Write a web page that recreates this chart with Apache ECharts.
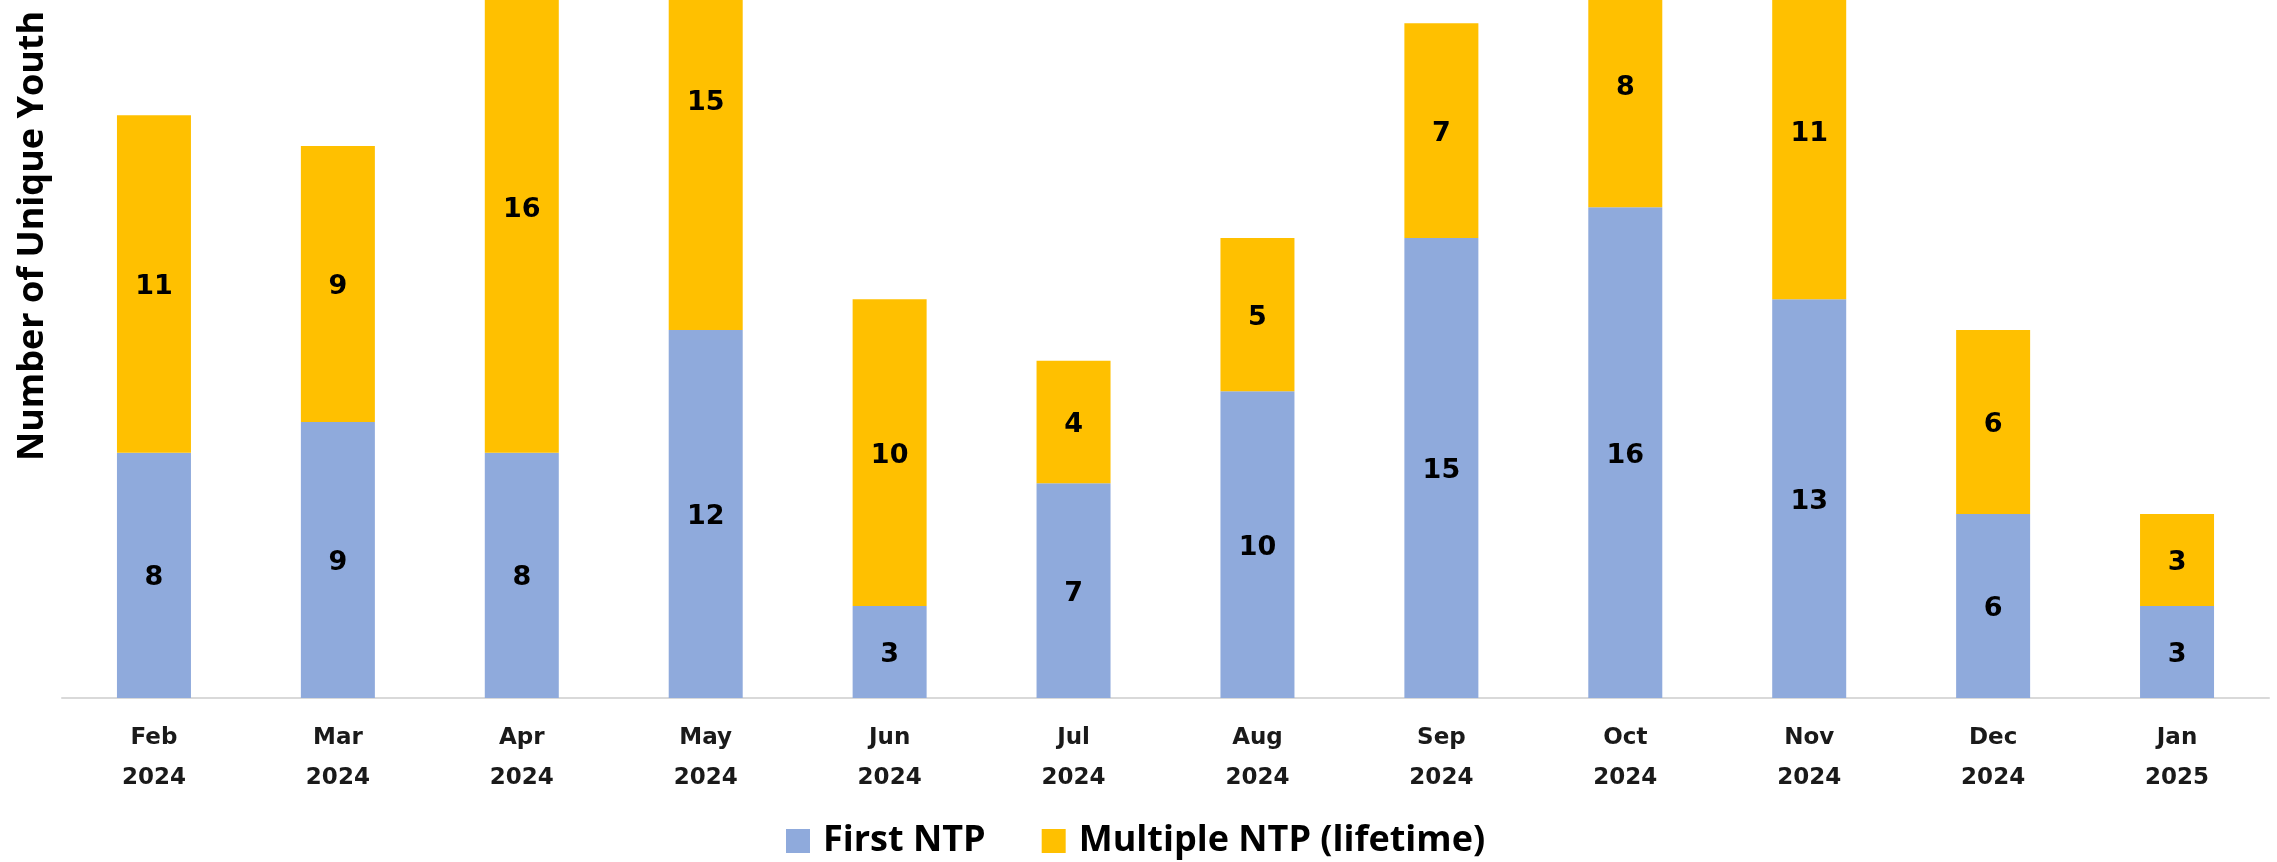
<!DOCTYPE html>
<html>
<head>
<meta charset="utf-8">
<script src="https://cdn.jsdelivr.net/npm/echarts@6/dist/echarts.min.js"></script>
<style>
  html, body { margin: 0; padding: 0; width: 2277px; height: 862px; overflow: hidden; background: #fff; }
  #chart { position: absolute; left: 0; top: -222px; width: 2277px; height: 1084px; }
</style>
</head>
<body>
<div id="chart"></div>
<script>
const categories = ['Feb\n2024', 'Mar\n2024', 'Apr\n2024', 'May\n2024', 'Jun\n2024', 'Jul\n2024',
                    'Aug\n2024', 'Sep\n2024', 'Oct\n2024', 'Nov\n2024', 'Dec\n2024', 'Jan\n2025'];
const firstNTP = [8, 9, 8, 12, 3, 7, 10, 15, 16, 13, 6, 3];
const multipleNTP = [11, 9, 16, 15, 10, 4, 5, 7, 8, 11, 6, 3];
const seriesNames = ['First NTP', 'Multiple NTP (lifetime)'];
const yTitle = 'Number of Unique Youth';

const chart = echarts.init(document.getElementById('chart'), null, { renderer: 'canvas' });
const labelStyle = {
  show: true, position: 'inside', color: '#000', fontFamily: 'DejaVu Sans',
  fontWeight: 'bold', fontSize: 27, offset: [0, 3]
};
chart.setOption({
  animation: false,
  backgroundColor: '#fff',
  grid: { left: 62, right: 8, top: 0, bottom: 164, containLabel: false },
  legend: {
    left: 781, top: 1040, itemWidth: 24, itemHeight: 24, itemGap: 56,
    icon: 'rect',
    textStyle: { fontFamily: 'Open Sans', fontWeight: 'bold', fontSize: 36, color: '#000', padding: [0, 0, 0, 8] },
    data: seriesNames
  },
  graphic: [{
    type: 'text', x: 33, y: 458, rotation: Math.PI / 2,
    style: { text: yTitle, fontFamily: 'Open Sans', fontWeight: 'bold', fontSize: 36, fill: '#000',
             textAlign: 'center', textVerticalAlign: 'middle' }
  }],
  xAxis: {
    type: 'category', data: categories,
    axisLine: { show: true, lineStyle: { color: '#d9d9d9', width: 2 } },
    axisTick: { show: false },
    axisLabel: { margin: 20, lineHeight: 40, fontFamily: 'DejaVu Sans', fontWeight: 'bold', fontSize: 23, color: '#1a1a1a' }
  },
  yAxis: {
    type: 'value', min: 0, max: 30, show: false, splitLine: { show: false }
  },
  series: [
    { name: seriesNames[0], type: 'bar', stack: 'total', data: firstNTP, barWidth: 74,
      itemStyle: { color: '#8FAADC' }, label: labelStyle },
    { name: seriesNames[1], type: 'bar', stack: 'total', data: multipleNTP, barWidth: 74,
      itemStyle: { color: '#FFC000' }, label: labelStyle }
  ]
});
</script>
</body>
</html>
